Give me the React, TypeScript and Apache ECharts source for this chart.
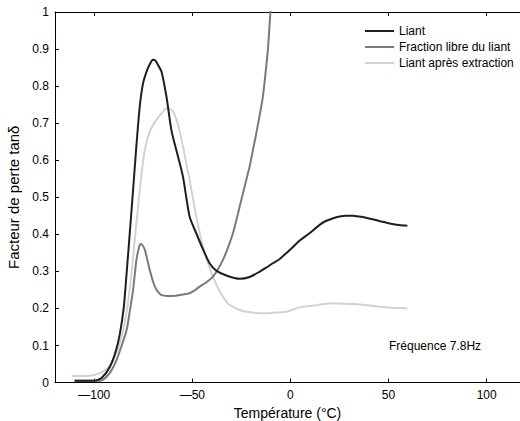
import React, { useEffect, useRef } from "react";
import * as echarts from "echarts";

const seriesNames = ["Liant", "Fraction libre du liant", "Liant après extraction"];

const liant: [number, number][] = [
  [-110, 0.005], [-100, 0.005], [-96, 0.014], [-92, 0.043], [-89, 0.085], [-86.9, 0.133], [-85, 0.2],
  [-83.5, 0.295], [-81.8, 0.41], [-80.2, 0.52], [-78.5, 0.64], [-76.8, 0.745], [-75.1, 0.808],
  [-73, 0.844], [-71, 0.866], [-70, 0.871], [-68.7, 0.868], [-67.5, 0.857], [-65.7, 0.839],
  [-63.2, 0.772], [-60.7, 0.682], [-58.2, 0.628], [-54.8, 0.556], [-51.4, 0.448], [-48, 0.403],
  [-44.6, 0.36], [-41.2, 0.322], [-37.8, 0.302], [-32.7, 0.289], [-25.9, 0.28], [-20.8, 0.285],
  [-15.8, 0.299], [-12.4, 0.31], [-9, 0.322], [-5.6, 0.333], [-2.2, 0.349], [0.5, 0.362],
  [4.6, 0.383], [9.7, 0.403], [14.7, 0.425], [18, 0.436], [21.5, 0.443], [25, 0.448], [28.3, 0.45],
  [31.7, 0.45], [35.1, 0.448], [38.5, 0.445], [41.8, 0.441], [45.2, 0.436], [48.6, 0.432],
  [52, 0.428], [55.4, 0.425], [59.6, 0.423],
];

const fractionLibre: [number, number][] = [
  [-110, 0.005], [-97, 0.005], [-93.7, 0.016], [-91, 0.035], [-88.6, 0.061], [-86, 0.1],
  [-83.5, 0.142], [-81.8, 0.195], [-80.2, 0.25], [-78.5, 0.331], [-77.3, 0.362], [-76.4, 0.374],
  [-75.3, 0.37], [-74.2, 0.358], [-72.9, 0.33], [-71.7, 0.304], [-70.4, 0.279], [-69.1, 0.259],
  [-67.4, 0.244], [-65.7, 0.236], [-62.7, 0.234], [-59.8, 0.234], [-55.6, 0.237], [-51.4, 0.241],
  [-48.8, 0.249], [-46.3, 0.259], [-43, 0.27], [-39.5, 0.286], [-37, 0.305], [-34.4, 0.331],
  [-31.8, 0.365], [-29.3, 0.403], [-26.8, 0.455], [-24.2, 0.511], [-22.5, 0.547], [-20.8, 0.583],
  [-19.1, 0.628], [-17.4, 0.673], [-15.8, 0.718], [-14.1, 0.77], [-12.8, 0.83], [-11.5, 0.898],
  [-10.2, 1.0], [-9.2, 1.07],
];

const apresExtraction: [number, number][] = [
  [-111.5, 0.018], [-105, 0.018], [-100.5, 0.02], [-97.5, 0.025], [-95.4, 0.03], [-92.8, 0.042],
  [-90.3, 0.061], [-87.7, 0.095], [-85.2, 0.142], [-83, 0.21], [-81, 0.295], [-78.9, 0.41],
  [-76.8, 0.52], [-75.4, 0.585], [-74.2, 0.628], [-73, 0.655], [-71.7, 0.677], [-70, 0.695],
  [-68.3, 0.709], [-65.7, 0.727], [-63.2, 0.74], [-61.5, 0.738], [-59.8, 0.731], [-58.5, 0.716],
  [-57.3, 0.695], [-56, 0.668], [-54.8, 0.637], [-53.1, 0.592], [-51.4, 0.547], [-49.7, 0.497],
  [-48, 0.448], [-46.3, 0.405], [-44.6, 0.367], [-42, 0.322], [-39.5, 0.286], [-37, 0.256],
  [-34.4, 0.232], [-31.8, 0.213], [-29.3, 0.205], [-25.9, 0.196], [-22.5, 0.191], [-17.5, 0.188],
  [-12.4, 0.187], [-7.3, 0.189], [-2.2, 0.191], [1.2, 0.197], [4.6, 0.203], [8.9, 0.206],
  [13.1, 0.209], [17.3, 0.212], [21.5, 0.214], [26.6, 0.213], [31.7, 0.212], [36.7, 0.21],
  [41.8, 0.207], [46.9, 0.204], [52, 0.202], [55.8, 0.201], [59.6, 0.2],
];

const xTicks = [-100, -50, 0, 50, 100];
const yTicks = [0, 0.1, 0.2, 0.3, 0.4, 0.5, 0.6, 0.7, 0.8, 0.9, 1];
const colors = ["#1e1e1e", "#7a7a7a", "#d2d2d2"];

export default function App() {
  const ref = useRef<HTMLDivElement>(null);
  useEffect(() => {
    if (!ref.current) return;
    const chart = echarts.init(ref.current, undefined, { renderer: "svg" });
    const font = "Liberation Sans, Arial, Helvetica, sans-serif";
    const axisCommon = {
      type: "value" as const,
      min: -120,
      max: 117,
      axisLine: { show: true, onZero: false, lineStyle: { color: "#000", width: 1 } },
      splitLine: { show: false },
    };
    chart.setOption({
      animation: false,
      backgroundColor: "#fff",
      textStyle: { fontFamily: font },
      grid: { left: 55, top: 12, right: 0, bottom: 38.4, containLabel: false, outerBoundsMode: "none" },
      legend: {
        orient: "vertical",
        left: 360,
        top: 18,
        itemWidth: 29,
        itemHeight: 2,
        itemGap: 0,
        icon: "rect",
        textStyle: { fontSize: 12, color: "#000", fontFamily: font, lineHeight: 16 },
        data: seriesNames,
      },
      xAxis: [
        {
          ...axisCommon,
          position: "bottom",
          name: "Température (°C)",
          nameLocation: "middle",
          nameGap: 19.5,
          nameTextStyle: { fontSize: 14, color: "#000", fontFamily: font },
          axisTick: { show: true, inside: true, length: 4, customValues: xTicks, lineStyle: { color: "#000" } },
          axisLabel: {
            show: true,
            customValues: xTicks,
            fontSize: 12,
            color: "#000",
            margin: 6,
            fontFamily: font,
            formatter: (v: number) => (v < 0 ? "\u2014" + Math.abs(v) : String(v)),
          },
        },
        {
          ...axisCommon,
          position: "top",
          axisTick: { show: true, inside: true, length: 4, customValues: xTicks, lineStyle: { color: "#000" } },
          axisLabel: { show: false },
        },
      ],
      yAxis: {
        type: "value",
        min: 0,
        max: 1,
        interval: 0.1,
        name: "Facteur de perte tanδ",
        nameLocation: "middle",
        nameGap: 27.5,
        nameTextStyle: { fontSize: 15, color: "#000", fontFamily: font },
        axisLine: { show: true, onZero: false, lineStyle: { color: "#000", width: 1 } },
        axisTick: { show: true, inside: true, length: 4, lineStyle: { color: "#000" } },
        splitLine: { show: false },
        axisLabel: {
          fontSize: 12,
          color: "#000",
          margin: 6,
          fontFamily: font,
          formatter: (v: number) => {
            const r = Math.round(v * 10) / 10;
            return yTicks.includes(r) ? String(r) : "";
          },
        },
      },
      series: [
        { name: seriesNames[0], data: liant, color: colors[0] },
        { name: seriesNames[1], data: fractionLibre, color: colors[1] },
        { name: seriesNames[2], data: apresExtraction, color: colors[2] },
      ].map((s, i) => ({
        type: "line",
        name: s.name,
        data: s.data,
        showSymbol: false,
        symbol: "none",
        smooth: 0.25,
        clip: true,
        z: 10 - i,
        itemStyle: { color: s.color },
        lineStyle: { color: s.color, width: 2 },
      })),
      graphic: [
        {
          type: "text",
          left: 389,
          top: 340,
          style: { text: "Fréquence 7.8Hz", fontSize: 12, fill: "#000", fontFamily: font },
        },
      ],
    });
    return () => chart.dispose();
  }, []);
  return <div ref={ref} style={{ width: 520, height: 421, position: "absolute", left: 0, top: 0 }} />;
}
